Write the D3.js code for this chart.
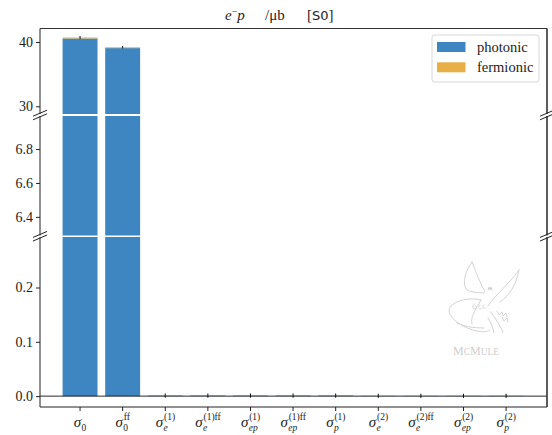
<!DOCTYPE html>
<html><head><meta charset="utf-8">
<script src="https://cdn.jsdelivr.net/npm/d3@7/dist/d3.min.js"></script>
<style>
html,body{margin:0;padding:0;background:#fff;}
</style></head>
<body><svg id="c" width="552" height="435" font-family="Liberation Serif"></svg>
<script>
// ---- data ----
const tickSub = ["0","0","e","e","ep","ep","p","e","e","ep","p"];
const tickSubItalic = [false,false,true,true,true,true,true,true,true,true,true];
const tickSup = ["","ff","(1)","(1)ff","(1)","(1)ff","(1)","(2)","(2)ff","(2)","(2)"];
const photonic  = [40.55, 39.05, 0.001, 0.001, 0.001, 0.001, 0.001, 0.0005, 0.0005, 0.0005, 0.0005];
const fermionic = [0.15, 0.13, 0, 0, 0, 0, 0, 0, 0, 0, 0];
const errors    = [0.15, 0.12, 0.003, 0.003, 0.003, 0.003, 0.003, 0.003, 0.003, 0.003, 0.003];
const seriesNames = ["photonic","fermionic"];
const seriesColors = ["#3e86c1","#e7af45"];
const topTicks = [30, 40];
const midTicks = [6.4, 6.6, 6.8];
const botTicks = [0.0, 0.1, 0.2];

// ---- layout ----
const FONT = "Liberation Serif";
const svg = d3.select("#c");
const L = 40, R = 547;
const x = d3.scaleLinear().domain([-0.94, 10.96]).range([L, R]);
const barW = 0.82;
const panels = [
  {domain:[28.8, 42.1], range:[114, 28.5], ticks:topTicks, fmt:d3.format("d")},
  {domain:[6.29, 6.995], range:[235.5, 116], ticks:midTicks, fmt:d3.format(".1f")},
  {domain:[-0.02, 0.293], range:[407, 237], ticks:botTicks, fmt:d3.format(".1f")}
];
const idx = d3.range(tickSub.length);
const defs = svg.append("defs");

panels.forEach((p, pi) => {
  const y = d3.scaleLinear().domain(p.domain).range(p.range);
  const top = p.range[1], bot = p.range[0];
  defs.append("clipPath").attr("id","clip"+pi).append("rect")
    .attr("x", L).attr("y", top).attr("width", R-L).attr("height", bot-top);
  const g = svg.append("g").attr("clip-path", `url(#clip${pi})`);
  g.selectAll("rect.ph").data(idx).join("rect")
    .attr("x", i => x(i - barW/2)).attr("width", x(barW) - x(0))
    .attr("y", i => y(photonic[i])).attr("height", i => Math.max(0, y(0) - y(photonic[i])))
    .attr("fill", seriesColors[0]);
  g.selectAll("rect.fe").data(idx).join("rect")
    .attr("x", i => x(i - barW/2)).attr("width", x(barW) - x(0))
    .attr("y", i => y(photonic[i] + fermionic[i])).attr("height", i => Math.max(0, y(photonic[i]) - y(photonic[i] + fermionic[i])))
    .attr("fill", seriesColors[1]);
  g.selectAll("line.err").data(idx).join("line")
    .attr("x1", i => x(i)).attr("x2", i => x(i))
    .attr("y1", i => y(photonic[i] + fermionic[i] - errors[i]) + 0.5)
    .attr("y2", i => y(photonic[i] + fermionic[i] + errors[i]) - 0.5)
    .attr("stroke", "#111").attr("stroke-width", 1);
  if (pi === 2) {
    g.append("line").attr("x1", L).attr("x2", R).attr("y1", y(0)).attr("y2", y(0))
      .attr("stroke", "#111").attr("stroke-width", 0.9);
  }
  const ax = svg.append("g").attr("transform", `translate(${L},0)`)
    .call(d3.axisLeft(y).tickValues(p.ticks).tickFormat(p.fmt).tickSize(4).tickPadding(3));
  ax.attr("font-family", FONT).attr("font-size", 14);
  ax.select(".domain").remove();
  ax.selectAll("line").attr("stroke", "#222");
  ax.selectAll("text").attr("font-family", FONT).attr("font-size", 14).attr("fill", "#222");
  svg.append("line").attr("x1", L).attr("x2", L).attr("y1", top).attr("y2", bot).attr("stroke", "#222").attr("stroke-width", 1);
  svg.append("line").attr("x1", R).attr("x2", R).attr("y1", top).attr("y2", bot).attr("stroke", "#333").attr("stroke-width", 1.6);
  if (pi === 0) svg.append("line").attr("x1", L).attr("x2", R).attr("y1", top).attr("y2", top).attr("stroke", "#333").attr("stroke-width", 1.2);
  if (pi === 2) svg.append("line").attr("x1", L).attr("x2", R).attr("y1", bot).attr("y2", bot).attr("stroke", "#222").attr("stroke-width", 1);
});

// break marks
[[114, 116], [235.5, 237]].forEach(([a, b]) => {
  const yc = (a + b) / 2;
  [L, R].forEach(xc => {
    [-1.8, 1.8].forEach(off => {
      svg.append("line").attr("x1", xc - 7).attr("x2", xc + 7)
        .attr("y1", yc + off + 3).attr("y2", yc + off - 3)
        .attr("stroke", "#222").attr("stroke-width", 1);
    });
  });
});

// x ticks
const xt = svg.append("g");
idx.forEach(i => {
  xt.append("line").attr("x1", x(i)).attr("x2", x(i)).attr("y1", 407).attr("y2", 411).attr("stroke", "#222");
  const g = xt.append("g");
  const s = g.append("text").attr("x", 0).attr("y", 427).attr("font-family", FONT).attr("font-size", 15).attr("font-style", "italic").attr("fill", "#222").text("σ");
  const w = s.node().getComputedTextLength();
  let sw = 0, pw = 0;
  if (tickSub[i]) {
    const t = g.append("text").attr("x", w + 0.3).attr("y", 431).attr("font-size", 9.5).attr("font-family", FONT).attr("fill", "#222")
      .attr("font-style", tickSubItalic[i] ? "italic" : "normal").text(tickSub[i]);
    sw = t.node().getComputedTextLength();
  }
  if (tickSup[i]) {
    const t = g.append("text").attr("x", w + 0.8).attr("y", 420.2).attr("font-size", 9.5).attr("font-family", FONT).attr("fill", "#222").text(tickSup[i]);
    pw = t.node().getComputedTextLength();
  }
  const tot = w + 0.5 + Math.max(sw, pw);
  g.attr("transform", `translate(${x(i) - tot/2},0)`);
});

// title
const title = svg.append("text").attr("y", 20).attr("font-size", 15).attr("font-family", FONT).attr("fill", "#222");
title.append("tspan").attr("x", 225).attr("font-style", "italic").text("e");
title.append("tspan").attr("dy", -5).attr("font-size", 10).text("−");
title.append("tspan").attr("dy", 5).attr("font-style", "italic").text("p");
title.append("tspan").attr("x", 265).text("/μb");
title.append("tspan").attr("x", 307).text("[");
title.append("tspan").attr("font-family", "DejaVu Sans").attr("font-size", 13).text("S0");
title.append("tspan").text("]");

// legend
const lg = svg.append("g");
lg.append("rect").attr("x", 432).attr("y", 35).attr("width", 107).attr("height", 47).attr("rx", 2.5)
  .attr("fill", "#fff").attr("fill-opacity", 0.8).attr("stroke", "#d8d8d8");
seriesNames.forEach((n, k) => {
  lg.append("rect").attr("x", 437).attr("y", 42 + k * 20.3).attr("width", 28.5).attr("height", 10)
    .attr("fill", seriesColors[k]);
  lg.append("text").attr("x", 477).attr("y", 51.5 + k * 20.3).attr("font-size", 14.5).attr("font-family", FONT).attr("fill", "#222").text(n);
});

// watermark
const wm = svg.append("g").attr("fill", "none").attr("stroke", "#d3d3d3").attr("stroke-width", 1).attr("stroke-linecap", "round");
[
  "M472,262 C466,270 462,282 466,289 C470,293 478,292 484,293",
  "M472,262 C476,272 480,283 485,292",
  "M519,270 C512,280 503,288 496,296 C492,300 490,304 488,306",
  "M519,270 C516,285 510,295 500,302",
  "M481,300 C470,297 456,300 450,307 C446,314 456,324 470,329 C478,332 486,333 490,330",
  "M481,300 C475,310 470,318 472,324",
  "M457,323 C463,326 472,328 484,328",
  "M488,290 l1,-3 l1,3 l1,-3 l1,3",
  "M475,304 c-3,0 -3,5 0,5 c2,0 2,-3 0,-3 M480,305 c-2,0 -2,4 1,4 M484,305 c-2,1 -2,4 1,3",
  "M497,311 l2,4 l3,-3 l1,4 l3,-3 l1,4 M502,317 l2,4 l3,-3 l1,4",
  "M491,312 C495,318 500,325 503,332",
  "M488,318 C491,323 493,327 494,333"
].forEach(d => wm.append("path").attr("d", d));
const mt = svg.append("text").attr("x", 453).attr("y", 355).attr("fill", "#cfcfcf").attr("font-family", FONT).attr("font-size", 12);
mt.append("tspan").text("M");
mt.append("tspan").attr("font-size", 9.5).text("C");
mt.append("tspan").text("M");
mt.append("tspan").attr("font-size", 9.5).text("ULE");
</script></body></html>
